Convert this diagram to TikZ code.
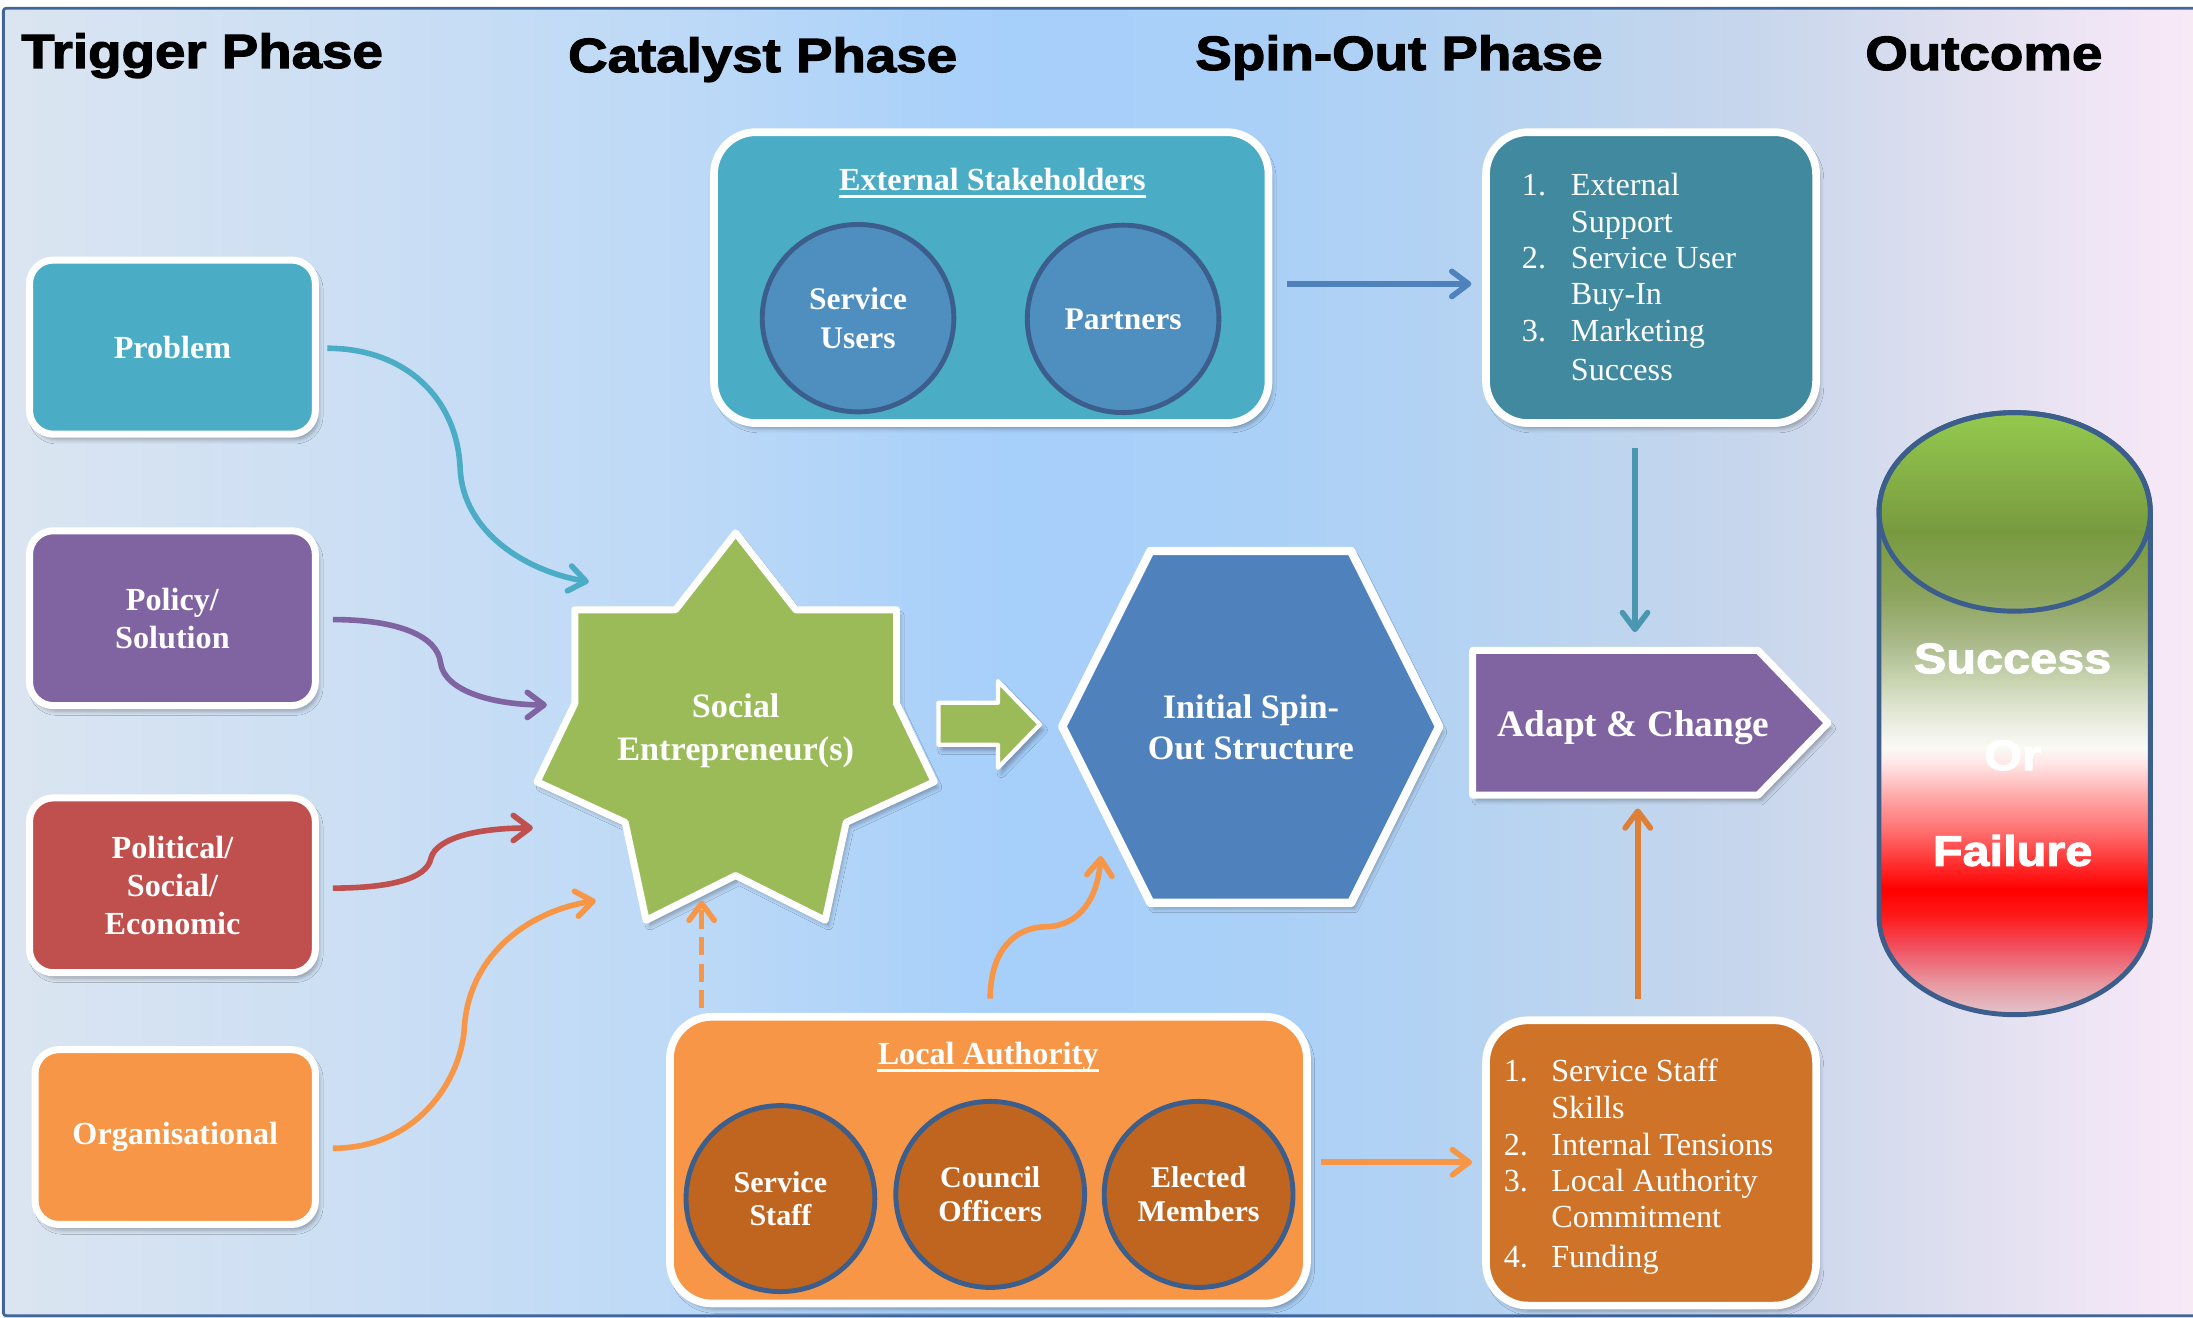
\documentclass[tikz,border=0pt]{standalone}
\usepackage{fontspec}
\setmainfont{Liberation Serif}
\newfontfamily\headfont[FakeStretch=1.14,BoldFeatures={FakeBold=2.5}]{Liberation Sans}
\usetikzlibrary{arrows.meta,shapes.geometric,shadows.blur}
\definecolor{cTeal}{HTML}{4BACC6}
\definecolor{cPurple}{HTML}{8064A2}
\definecolor{cRed}{HTML}{C0504D}
\definecolor{cOrange}{HTML}{F79646}
\definecolor{cGreen}{HTML}{9BBB59}
\definecolor{cBlue}{HTML}{4F81BD}
\definecolor{cDarkTeal}{HTML}{41899F}
\definecolor{cBrown}{HTML}{CF7328}
\definecolor{cCircBlue}{HTML}{4E8FC0}
\definecolor{cCircBrown}{HTML}{BF6520}
\definecolor{cRim}{HTML}{3B5E8C}
\definecolor{cArrTeal}{HTML}{4C97B0}
\definecolor{cArrOrange}{HTML}{DE7F38}
\definecolor{cBorder}{HTML}{41679A}
% background colours
\definecolor{bgA}{HTML}{DBE5F1}
\definecolor{bgB}{HTML}{CFE0F3}
\definecolor{bgC}{HTML}{BCD9F7}
\definecolor{bgD}{HTML}{A6CFFA}
\definecolor{bgE}{HTML}{AAD0F7}
\definecolor{bgF}{HTML}{B9D4F0}
\definecolor{bgG}{HTML}{C7D6EC}
\definecolor{bgH}{HTML}{DEDFEF}
\definecolor{bgI}{HTML}{EFE5F5}
\definecolor{bgJ}{HTML}{F9E9F7}
% cylinder colours
\definecolor{cyA}{HTML}{94CA4E}
\definecolor{cyB}{HTML}{789A3F}
\definecolor{cyC}{HTML}{8CA45C}
\definecolor{cyD}{HTML}{A8B888}
\definecolor{cyE}{HTML}{C8D4B0}
\definecolor{cyF}{HTML}{E4E8D8}
\definecolor{cyG}{HTML}{FAFAF5}
\definecolor{cyH}{HTML}{FFE6E6}
\definecolor{cyI}{HTML}{FFA8A8}
\definecolor{cyJ}{HTML}{FF7070}
\definecolor{cyK}{HTML}{FF3030}
\definecolor{cyL}{HTML}{FF0000}
\definecolor{cyM}{HTML}{FF1A1A}
\definecolor{cyN}{HTML}{F05565}
\definecolor{cyO}{HTML}{E898A0}
\definecolor{cyP}{HTML}{E2C4CC}
\pgfdeclarehorizontalshading{bgshade}{100bp}{color(0bp)=(bgA); color(25bp)=(bgA); color(31.3bp)=(bgB); color(40.9bp)=(bgC); color(47.9bp)=(bgD); color(53.7bp)=(bgE); color(60.05bp)=(bgF); color(64.85bp)=(bgG); color(69.6bp)=(bgH); color(72.8bp)=(bgI); color(75bp)=(bgJ); color(100bp)=(bgJ)}
\pgfdeclareverticalshading{cylshade}{100bp}{color(0bp)=(cyP); color(25bp)=(cyP); color(27.6bp)=(cyO); color(30.4bp)=(cyN); color(33.2bp)=(cyM); color(35.4bp)=(cyL); color(37.6bp)=(cyK); color(40.3bp)=(cyJ); color(43.1bp)=(cyI); color(45.85bp)=(cyH); color(47.2bp)=(cyG); color(50bp)=(cyF); color(52.8bp)=(cyE); color(56.1bp)=(cyD); color(59.9bp)=(cyC); color(65.1bp)=(cyB); color(75bp)=(cyA); color(100bp)=(cyA)}
\tikzset{
  shadowed/.style={blur shadow={shadow xshift=2.5pt, shadow yshift=-4pt, shadow opacity=30, shadow blur radius=3pt}},
  box/.style={shadowed, draw=white, line width=5pt, rounded corners=17pt, inner sep=0pt, text=white, align=center, font=\fontsize{23}{27}\selectfont\bfseries},
  bigbox/.style={shadowed, draw=white, line width=5.5pt, rounded corners=30pt, inner sep=0pt},
  disc/.style={ellipse, draw=cRim, line width=3.5pt, inner sep=0pt, text=white, align=center},
  shapefill/.style={shadowed, draw=white, line width=5pt, line join=round},
  shapetxt/.style={inner sep=0pt, text=white, align=center},
  head/.style={inner sep=0pt, anchor=base west, font=\headfont\bfseries\fontsize{34.3}{40}\selectfont},
  cyltxt/.style={inner sep=0pt, anchor=base, text=white, font=\headfont\bfseries\fontsize{30.5}{36}\selectfont},
  listtxt/.style={inner sep=0pt, anchor=base west, text=white, font=\fontsize{23}{26}\selectfont},
  undertitle/.style={inner sep=0pt, anchor=base, text=white, font=\fontsize{23}{27}\selectfont\bfseries},
  arr/.style={line width=4pt, -{Straight Barb[length=12pt,width=18pt,round]}}
}
\begin{document}
\begin{tikzpicture}[x=1pt,y=-1pt]
\useasboundingbox (0,0) rectangle (1568,941.7);
% background
\fill[white] (0,0) rectangle (1568,941.7);
\shade[shading=bgshade] (2.4,5.9) rectangle (1568,941.7);
\draw[cBorder, line width=2pt, rounded corners=2pt] (1568,5.9) -- (2.4,5.9) -- (2.4,940.7) -- (1568,940.7);

% headings
\node[head] (h1) at (15,48.6) {Trigger Phase};
\node[head] (h2) at (406,51.5) {Catalyst Phase};
\node[head] (h3) at (854.5,50) {Spin-Out Phase};
\node[head] (h4) at (1333.5,50) {Outcome};

% trigger boxes
\node[box, fill=cTeal, minimum width=204.4pt, minimum height=124.5pt] (problem) at (123.3,248.2) {Problem};
\node[box, fill=cPurple, minimum width=204.4pt, minimum height=125pt] (policy) at (123.3,442) {Policy/\\Solution};
\node[box, fill=cRed, minimum width=204.4pt, minimum height=125pt] (polit) at (123.3,633) {Political/\\Social/\\Economic};
\node[box, fill=cOrange, minimum width=200.5pt, minimum height=125pt] (org) at (125.3,813) {Organisational};

% external stakeholders
\node[bigbox, fill=cTeal, minimum width=396.5pt, minimum height=208pt] (ext) at (708.75,198.5) {};
\node[undertitle] (extT) at (709.5,136) {External Stakeholders};
\draw[white, line width=1.8pt] ([yshift=-4.5pt]extT.base west) -- ([yshift=-4.5pt]extT.base east);
\node[disc, fill=cCircBlue, minimum width=137pt, minimum height=134pt, font=\fontsize{22.5}{27.4}\selectfont\bfseries] (su) at (613.5,227.5) {Service\\Users};
\node[disc, fill=cCircBlue, minimum width=137pt, minimum height=134pt, font=\fontsize{22.5}{27.4}\selectfont\bfseries] (pa) at (803,228) {Partners};

% top list
\node[bigbox, fill=cDarkTeal, minimum width=236pt, minimum height=208pt] (tl) at (1180.5,198.5) {};
\node[listtxt] (a1n) at (1088,139.5) {1.};
\node[listtxt] (a1) at (1123,139.5) {External};
\node[listtxt] (a1b) at (1123,166) {Support};
\node[listtxt] (a2n) at (1088,192) {2.};
\node[listtxt] (a2) at (1123,192) {Service User};
\node[listtxt] (a2b) at (1123,218) {Buy-In};
\node[listtxt] (a3n) at (1088,244.5) {3.};
\node[listtxt] (a3) at (1123,244.5) {Marketing};
\node[listtxt] (a3b) at (1123,272) {Success};

% local authority
\node[bigbox, fill=cOrange, minimum width=455.5pt, minimum height=205pt] (la) at (706.75,829.5) {};
\node[undertitle] (laT) at (706.5,761) {Local Authority};
\draw[white, line width=1.8pt] ([yshift=-4.5pt]laT.base west) -- ([yshift=-4.5pt]laT.base east);
\node[disc, fill=cCircBrown, minimum width=135pt, minimum height=133pt, font=\fontsize{21.5}{24}\selectfont\bfseries] (ss) at (558,857) {Service\\Staff};
\node[disc, fill=cCircBrown, minimum width=135pt, minimum height=133pt, font=\fontsize{21.5}{24}\selectfont\bfseries] (co) at (708,854) {Council\\Officers};
\node[disc, fill=cCircBrown, minimum width=135pt, minimum height=133pt, font=\fontsize{21.5}{24}\selectfont\bfseries] (em) at (857,854) {Elected\\Members};

% bottom list
\node[bigbox, fill=cBrown, minimum width=236pt, minimum height=204pt] (bl) at (1180.5,831.5) {};
\node[listtxt] (b1n) at (1075,773.5) {1.};
\node[listtxt] (b1) at (1109,773.5) {Service Staff};
\node[listtxt] (b1b) at (1109,799.5) {Skills};
\node[listtxt] (b2n) at (1075,826) {2.};
\node[listtxt] (b2) at (1109,826) {Internal Tensions};
\node[listtxt] (b3n) at (1075,852) {3.};
\node[listtxt] (b3) at (1109,852) {Local Authority};
\node[listtxt] (b3b) at (1109,878) {Commitment};
\node[listtxt] (b4n) at (1075,906) {4.};
\node[listtxt] (b4) at (1109,906) {Funding};

% social entrepreneur star
\path[shapefill, fill=cGreen] (526,381) -- (569,436) -- (641,436) -- (641,503) -- (668,559) -- (605,588) -- (590,658) -- (526,626) -- (462,658) -- (447,588) -- (384,559) -- (411,503) -- (411,436) -- (483,436) -- cycle;
\node[shapetxt, font=\fontsize{24.5}{30.5}\selectfont\bfseries] (se) at (526,522.5) {Social\\Entrepreneur(s)};

% block arrow
\path[shapefill, line width=3pt, fill=cGreen] (671,502.5) -- (713.5,502.5) -- (713.5,487) -- (743.5,518) -- (713.5,549) -- (713.5,532.5) -- (671,532.5) -- cycle;

% hexagon
\path[shapefill, line width=6pt, fill=cBlue] (822.5,394) -- (966,394) -- (1029,519.5) -- (966,645.5) -- (822.5,645.5) -- (759.5,519.5) -- cycle;
\node[shapetxt, font=\fontsize{24.5}{28.7}\selectfont\bfseries] (isos) at (894.4,520) {Initial Spin-\\Out Structure};

% adapt and change
\path[shapefill, fill=cPurple] (1053,465) -- (1257,465) -- (1307,517) -- (1257,568.5) -- (1053,568.5) -- cycle;
\node[shapetxt, font=\fontsize{26.7}{31}\selectfont\bfseries] (ac) at (1168,520.4) {Adapt \& Change};

% cylinder
\shade[shading=cylshade] (1343.5,366) -- (1343.5,655) arc[start angle=180, end angle=360, x radius=97pt, y radius=70.5pt] -- (1537.5,366) arc[start angle=0, end angle=180, x radius=97pt, y radius=71pt] -- cycle;
\draw[cRim, line width=3.5pt] (1343.5,366) -- (1343.5,655) arc[start angle=180, end angle=360, x radius=97pt, y radius=70.5pt] -- (1537.5,366) arc[start angle=0, end angle=180, x radius=97pt, y radius=71pt] -- cycle;
\draw[cRim, line width=3.5pt] (1440.5,366) ellipse[x radius=97pt, y radius=71pt];
\node[cyltxt] (succ) at (1439,481.4) {Success};
\node[cyltxt] (orr) at (1439,550.6) {Or};
\node[cyltxt] (fail) at (1439,619) {Failure};

% connector end points
\coordinate (c1s) at (234,249);   \coordinate (c1e) at (421,416);
\coordinate (c2s) at (238,443);   \coordinate (c2e) at (391,504);
\coordinate (c3s) at (238,635);   \coordinate (c3e) at (381,592);
\coordinate (c4s) at (238,821);   \coordinate (c4e) at (426,644);
\coordinate (c5s) at (708,714);   \coordinate (c5e) at (787,612);
\coordinate (c6s) at (501.7,721); \coordinate (c6e) at (501.7,644);
\coordinate (e1s) at (920,203);   \coordinate (e1e) at (1052,203);
\coordinate (e2s) at (944.5,831); \coordinate (e2e) at (1052.5,831);
\coordinate (e3s) at (1169,320);  \coordinate (e3e) at (1169,452);
\coordinate (e4s) at (1171,714);  \coordinate (e4e) at (1171,578);

% curved connectors
\draw[arr, cTeal] (c1s) .. controls (290,249) and (327,285) .. (329,335) .. controls (331,380) and (375,408) .. (c1e);
\draw[arr, cPurple] (c2s) .. controls (285,443) and (313,455) .. (315,474) .. controls (318,495) and (355,504) .. (c2e);
\draw[arr, cRed] (c3s) .. controls (280,635) and (305,628) .. (308,614) .. controls (312,598) and (345,592) .. (c3e);
\draw[arr, cOrange] (c4s) .. controls (300,821) and (330,770) .. (332,735) .. controls (335,685) and (375,652) .. (c4e);
\draw[arr, cOrange] (c5s) .. controls (708,680) and (725,663) .. (748,662.6) .. controls (772,662) and (785,642) .. (c5e);
\draw[arr, cOrange, dash pattern=on 13pt off 6pt] (c6s) -- (c6e);

% straight connectors
\draw[arr, cBlue] (e1s) -- (e1e);
\draw[arr, cOrange] (e2s) -- (e2e);
\draw[arr, cArrTeal] (e3s) -- (e3e);
\draw[arr, cArrOrange] (e4s) -- (e4e);
\end{tikzpicture}
\end{document}
